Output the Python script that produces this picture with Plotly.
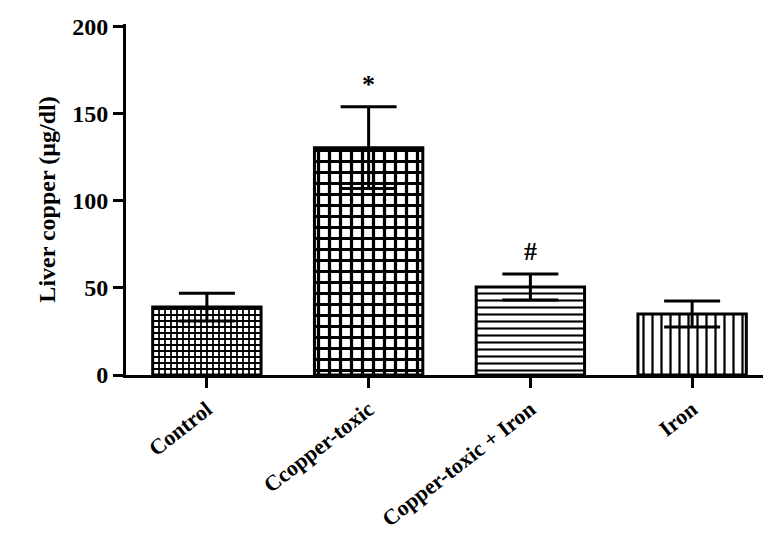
import plotly.graph_objects as go

groups = ["Control", "Ccopper-toxic", "Copper-toxic + Iron", "Iron"]
means = [39, 130.5, 50.5, 35]
errors = [8, 23.5, 7.5, 7.5]
patterns = ["+", "+", "-", "|"]
pattern_sizes = [6, 11, 7, 9]
pattern_solidity = [0.5, 0.5, 0.3, 0.25]
marks = ["", "*", "#", ""]
y_ticks = [0, 50, 100, 150, 200]

fig = go.Figure()
fig.add_trace(go.Bar(
    x=groups,
    y=means,
    width=0.67,
    marker=dict(
        color="white",
        line=dict(color="black", width=3),
        pattern=dict(shape=patterns, size=pattern_sizes, solidity=pattern_solidity,
                     fgcolor="black", bgcolor="white", fgopacity=1),
    ),
    error_y=dict(type="data", array=errors, visible=True, color="black",
                 thickness=3, width=28),
    showlegend=False,
))

for g, m, e, t in zip(groups, means, errors, marks):
    if t:
        fig.add_annotation(x=g, y=m + e, text=f"<b>{t}</b>", showarrow=False,
                           yshift=22, font=dict(family="Liberation Serif", size=26))

fig.update_layout(
    width=771, height=549,
    margin=dict(l=118, r=6, t=10, b=182),
    plot_bgcolor="white", paper_bgcolor="white",
    font=dict(family="Liberation Serif", color="black"),
)
fig.update_xaxes(
    range=[-0.5, 3.5], showline=True, linecolor="black", linewidth=3,
    ticks="outside", ticklen=10, tickwidth=3, tickcolor="black",
    tickangle=-38, tickfont=dict(family="Liberation Serif", size=22, weight="bold"),
)
fig.update_yaxes(
    range=[0, 201.5], tickvals=y_ticks, showline=True, linecolor="black", linewidth=3,
    ticks="outside", ticklen=10, tickwidth=3, tickcolor="black", showgrid=False,
    zeroline=False, tickfont=dict(family="Liberation Serif", size=24, weight="bold"),
    title=dict(text="<b>Liver copper (µg/dl)</b>",
               font=dict(family="Liberation Serif", size=24), standoff=10),
)

fig.write_html("out.html")
